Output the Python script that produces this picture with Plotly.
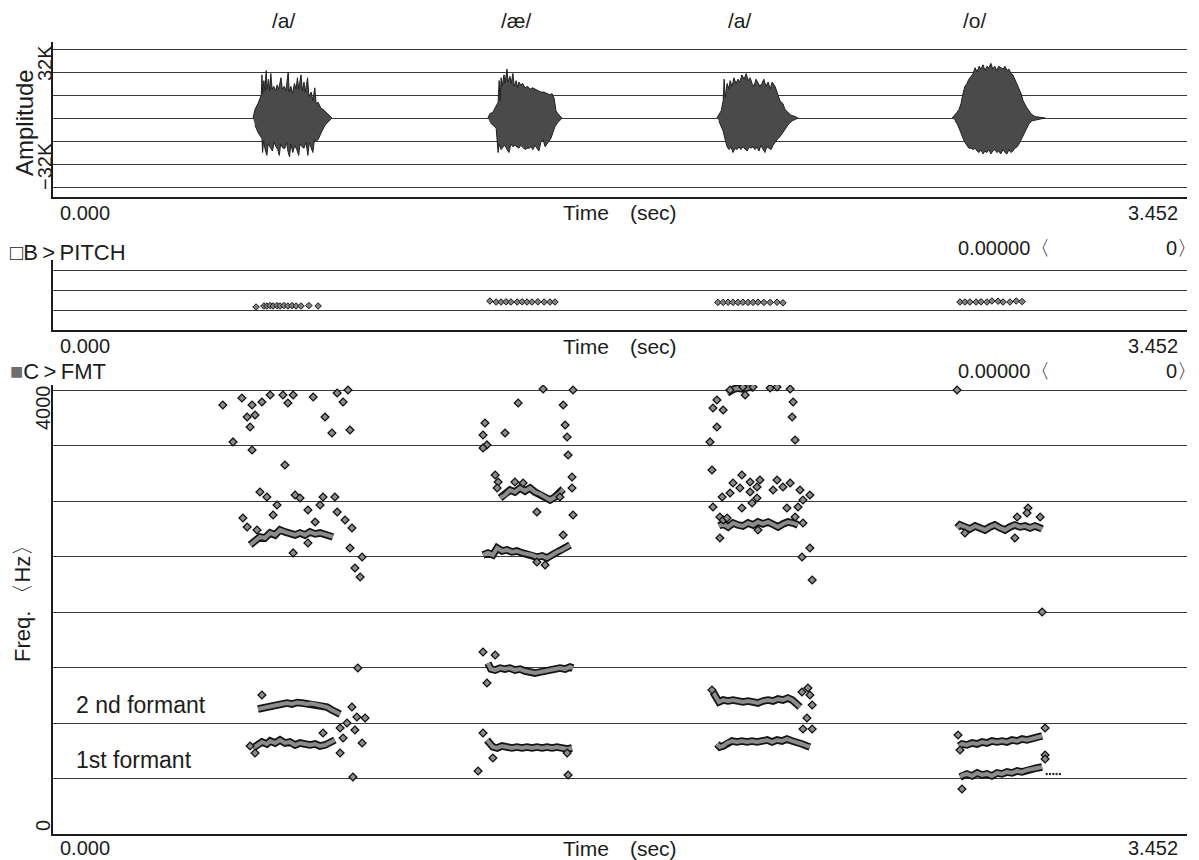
import plotly.graph_objects as go

# ---------------- data (time in s, amplitude in K, frequency in Hz) ----------------
TIME_MAX = 3.452
PHONEMES = ["/a/", "/æ/", "/a/", "/o/"]
PHONEME_T = [0.702, 1.412, 2.091, 2.807]

AMP_GRID = [-48, -32, -16, 0, 16, 32, 48]
PITCH_GRID = [100, 200, 300]
FMT_GRID = [500, 1000, 1500, 2000, 2500, 3000, 3500, 4000]

# waveform envelopes (upper / lower)
WAVE_A1_UP = [(0.609, 0), (0.615, 6), (0.624, 10), (0.630, 14), (0.634, 16), (0.636, 30), (0.638, 17),
              (0.642, 26), (0.645, 19), (0.649, 33), (0.652, 20), (0.656, 27), (0.660, 19), (0.663, 31),
              (0.667, 20), (0.672, 22), (0.678, 19), (0.682, 23), (0.687, 20), (0.694, 28), (0.698, 20),
              (0.704, 22), (0.709, 19), (0.716, 32), (0.719, 18), (0.724, 22), (0.729, 17), (0.735, 24),
              (0.740, 20), (0.744, 28), (0.748, 20), (0.755, 30), (0.759, 19), (0.764, 25), (0.768, 18),
              (0.775, 28), (0.779, 15), (0.786, 18), (0.791, 12), (0.797, 21), (0.801, 10), (0.807, 11),
              (0.815, 7), (0.822, 6), (0.832, 3.5), (0.840, 2), (0.849, 0)]
WAVE_A1_LO = [(0.615, -5), (0.624, -10), (0.632, -13), (0.636, -14), (0.638, -24), (0.641, -16), (0.646, -22),
              (0.651, -26), (0.655, -18), (0.662, -21), (0.668, -23), (0.673, -17), (0.679, -20), (0.684, -22),
              (0.689, -26), (0.693, -18), (0.700, -21), (0.706, -21), (0.711, -17), (0.716, -24), (0.720, -27),
              (0.724, -18), (0.730, -24), (0.736, -19), (0.742, -22), (0.748, -26), (0.752, -18), (0.758, -20),
              (0.764, -21), (0.770, -17), (0.776, -26), (0.780, -17), (0.786, -20), (0.791, -24), (0.796, -15),
              (0.802, -16), (0.807, -15), (0.813, -12), (0.819, -9), (0.828, -5), (0.837, -3)]

WAVE_AE_UP = [(1.324, 0), (1.330, 3), (1.339, 4), (1.349, 8), (1.355, 11), (1.358, 26), (1.361, 12),
              (1.364, 28), (1.367, 22), (1.373, 30), (1.376, 24), (1.382, 34), (1.385, 25), (1.391, 29),
              (1.395, 24), (1.400, 31), (1.404, 22), (1.410, 26), (1.414, 21), (1.418, 25), (1.424, 23),
              (1.430, 24), (1.437, 21), (1.445, 22), (1.452, 20), (1.460, 21), (1.467, 20), (1.476, 19),
              (1.485, 18), (1.495, 18), (1.504, 17), (1.513, 16), (1.519, 17), (1.525, 14), (1.528, 10),
              (1.531, 5), (1.537, 3), (1.546, 1), (1.549, 0)]
WAVE_AE_LO = [(1.330, -3), (1.339, -5), (1.349, -7), (1.352, -14), (1.355, -24), (1.358, -18), (1.364, -22),
              (1.370, -20), (1.376, -19), (1.382, -22), (1.388, -24), (1.394, -18), (1.400, -20), (1.406, -19),
              (1.412, -20), (1.418, -21), (1.424, -19), (1.430, -20), (1.437, -22), (1.443, -21), (1.449, -21),
              (1.455, -20), (1.461, -22), (1.467, -19), (1.473, -21), (1.479, -23), (1.485, -17), (1.492, -15),
              (1.498, -20), (1.504, -18), (1.510, -16), (1.516, -14), (1.522, -10), (1.528, -6), (1.537, -3),
              (1.546, -1)]

WAVE_A2_UP = [(2.021, 0), (2.027, 2), (2.034, 5), (2.040, 12), (2.043, 27), (2.046, 14), (2.052, 24),
              (2.058, 20), (2.061, 26), (2.067, 22), (2.073, 28), (2.079, 24), (2.085, 27), (2.091, 25),
              (2.097, 30), (2.104, 27), (2.110, 31), (2.116, 26), (2.122, 28), (2.128, 24), (2.134, 22),
              (2.140, 27), (2.146, 24), (2.152, 22), (2.158, 24), (2.164, 27), (2.170, 22), (2.177, 25),
              (2.183, 20), (2.189, 25), (2.198, 22), (2.207, 16), (2.213, 12), (2.222, 10), (2.228, 6),
              (2.237, 4), (2.246, 2), (2.259, 1), (2.268, 0)]
WAVE_A2_LO = [(2.027, -2), (2.034, -6), (2.040, -9), (2.046, -15), (2.052, -20), (2.058, -22), (2.064, -20),
              (2.070, -24), (2.076, -21), (2.082, -22), (2.088, -20), (2.094, -22), (2.100, -20), (2.106, -21),
              (2.113, -23), (2.119, -20), (2.125, -21), (2.131, -20), (2.137, -22), (2.143, -20), (2.149, -23),
              (2.155, -19), (2.161, -21), (2.167, -24), (2.173, -20), (2.180, -21), (2.186, -22), (2.192, -19),
              (2.198, -17), (2.204, -15), (2.213, -13), (2.222, -10), (2.231, -7), (2.240, -4), (2.250, -2),
              (2.259, -1)]

WAVE_O_UP = [(2.737, 0), (2.746, 2), (2.752, 4), (2.758, 6), (2.764, 10), (2.770, 17), (2.776, 22),
             (2.782, 24), (2.788, 27), (2.795, 29), (2.801, 31), (2.807, 35), (2.813, 32), (2.819, 36),
             (2.825, 34), (2.831, 37), (2.837, 33), (2.843, 36), (2.849, 35), (2.855, 38), (2.861, 34),
             (2.867, 36), (2.873, 33), (2.879, 36), (2.885, 35), (2.892, 34), (2.898, 36), (2.904, 33),
             (2.910, 34), (2.916, 31), (2.922, 30), (2.928, 27), (2.935, 24), (2.941, 21), (2.947, 17),
             (2.953, 12), (2.959, 9), (2.965, 7), (2.971, 5), (2.977, 3), (2.989, 1), (3.005, 0.5), (3.020, 0)]
WAVE_O_LO = [(2.746, -2), (2.752, -4), (2.758, -7), (2.764, -10), (2.770, -14), (2.776, -17), (2.782, -19),
             (2.788, -21), (2.795, -21), (2.801, -22), (2.807, -21), (2.813, -23), (2.819, -24), (2.825, -22),
             (2.831, -25), (2.837, -23), (2.843, -24), (2.849, -22), (2.855, -25), (2.861, -23), (2.867, -22),
             (2.873, -24), (2.879, -23), (2.885, -25), (2.892, -22), (2.898, -24), (2.904, -25), (2.910, -22),
             (2.916, -24), (2.922, -23), (2.928, -21), (2.935, -20), (2.941, -18), (2.947, -15), (2.953, -13),
             (2.959, -10), (2.965, -7), (2.971, -4), (2.980, -2), (2.995, -1), (3.010, -0.5)]

# pitch points (Hz)
PITCH_A1 = [(0.618, 115), (0.642, 120), (0.651, 120), (0.661, 122), (0.670, 120), (0.682, 122), (0.691, 120),
            (0.703, 122), (0.715, 120), (0.728, 122), (0.740, 120), (0.755, 120), (0.779, 122), (0.807, 120)]
PITCH_AE = [(1.330, 145), (1.349, 140), (1.364, 140), (1.379, 141), (1.394, 140), (1.413, 140), (1.428, 141),
            (1.443, 140), (1.458, 140), (1.476, 141), (1.495, 140), (1.513, 140), (1.528, 140)]
PITCH_A2 = [(2.024, 138), (2.040, 138), (2.055, 139), (2.070, 138), (2.085, 138), (2.100, 139), (2.116, 138),
            (2.131, 138), (2.146, 139), (2.164, 138), (2.183, 138), (2.204, 139), (2.222, 136)]
PITCH_O = [(2.761, 140), (2.776, 140), (2.791, 140), (2.810, 140), (2.825, 141), (2.843, 140), (2.858, 145),
           (2.877, 144), (2.892, 140), (2.913, 140), (2.932, 145), (2.950, 142)]

# formant tracks (Hz)
A1_F1 = [(0.609, 775), (0.624, 802), (0.636, 829), (0.651, 811), (0.661, 838), (0.676, 820), (0.691, 847),
         (0.706, 820), (0.721, 829), (0.737, 802), (0.752, 820), (0.767, 811), (0.782, 802), (0.798, 811),
         (0.813, 793), (0.828, 802), (0.843, 820), (0.858, 847)]
A1_F2 = [(0.624, 1126), (0.636, 1135), (0.651, 1144), (0.667, 1150), (0.682, 1162), (0.697, 1171),
         (0.712, 1180), (0.728, 1171), (0.743, 1185), (0.758, 1180), (0.773, 1171), (0.788, 1176),
         (0.804, 1162), (0.819, 1153), (0.834, 1144), (0.849, 1117), (0.865, 1099), (0.874, 1081)]
A1_F3 = [(0.600, 2604), (0.615, 2640), (0.630, 2676), (0.645, 2667), (0.661, 2712), (0.676, 2694),
         (0.691, 2739), (0.706, 2721), (0.721, 2712), (0.737, 2694), (0.752, 2712), (0.767, 2694),
         (0.782, 2721), (0.798, 2703), (0.813, 2712), (0.828, 2694), (0.843, 2685), (0.852, 2676)]
AE_F1 = [(1.321, 847), (1.330, 811), (1.339, 784), (1.352, 775), (1.367, 793), (1.382, 784), (1.397, 775),
         (1.412, 784), (1.428, 775), (1.443, 784), (1.458, 775), (1.473, 784), (1.489, 775), (1.504, 784),
         (1.519, 775), (1.534, 784), (1.549, 775), (1.565, 766), (1.580, 775)]
AE_F2 = [(1.324, 1540), (1.333, 1486), (1.346, 1477), (1.361, 1495), (1.376, 1486), (1.391, 1495),
         (1.406, 1477), (1.422, 1486), (1.437, 1468), (1.452, 1459), (1.467, 1450), (1.482, 1459),
         (1.498, 1468), (1.513, 1477), (1.528, 1486), (1.543, 1495), (1.559, 1486), (1.574, 1505), (1.583, 1495)]
AE_F3 = [(1.309, 2514), (1.324, 2532), (1.339, 2514), (1.352, 2577), (1.367, 2550), (1.382, 2559),
         (1.397, 2541), (1.412, 2550), (1.428, 2532), (1.443, 2523), (1.458, 2514), (1.473, 2495),
         (1.489, 2505), (1.504, 2486), (1.519, 2514), (1.534, 2541), (1.549, 2559), (1.565, 2586), (1.574, 2604)]
AE_F4 = [(1.361, 3027), (1.376, 3054), (1.391, 3099), (1.406, 3081), (1.422, 3117), (1.437, 3090),
         (1.452, 3117), (1.467, 3081), (1.482, 3063), (1.498, 3036), (1.513, 3009), (1.528, 3036),
         (1.543, 3072), (1.553, 3108)]
A2_F1 = [(2.021, 811), (2.030, 784), (2.040, 793), (2.052, 820), (2.067, 838), (2.082, 829), (2.097, 838),
         (2.113, 829), (2.128, 838), (2.143, 829), (2.158, 838), (2.174, 847), (2.189, 829), (2.204, 847),
         (2.219, 838), (2.234, 856), (2.250, 838), (2.265, 829), (2.280, 811), (2.295, 793), (2.304, 784)]
A2_F2 = [(2.009, 1279), (2.018, 1225), (2.027, 1189), (2.040, 1207), (2.055, 1198), (2.070, 1207),
         (2.085, 1198), (2.100, 1189), (2.116, 1198), (2.131, 1189), (2.146, 1180), (2.161, 1198),
         (2.177, 1207), (2.192, 1198), (2.207, 1216), (2.222, 1207), (2.237, 1225), (2.250, 1207),
         (2.262, 1180), (2.274, 1144)]
A2_F3 = [(2.027, 2775), (2.040, 2793), (2.055, 2766), (2.070, 2802), (2.085, 2784), (2.100, 2775),
         (2.116, 2802), (2.131, 2784), (2.146, 2811), (2.161, 2793), (2.177, 2811), (2.192, 2784),
         (2.207, 2766), (2.222, 2793), (2.237, 2811), (2.253, 2802), (2.268, 2784)]
A2_TOP = [(2.052, 3973), (2.061, 3991), (2.073, 4009), (2.085, 4018), (2.097, 4009), (2.110, 4018),
          (2.122, 4027), (2.134, 4018)]
O_F1 = [(2.761, 514), (2.770, 532), (2.782, 541), (2.798, 523), (2.813, 550), (2.828, 532), (2.843, 541),
        (2.858, 523), (2.874, 550), (2.889, 541), (2.904, 559), (2.919, 550), (2.935, 568), (2.950, 559),
        (2.965, 577), (2.980, 586), (2.995, 595), (3.011, 604)]
O_F2 = [(2.758, 793), (2.767, 811), (2.782, 802), (2.798, 820), (2.813, 811), (2.828, 829), (2.843, 820),
        (2.858, 838), (2.874, 829), (2.889, 838), (2.904, 829), (2.919, 847), (2.935, 838), (2.950, 856),
        (2.965, 847), (2.980, 856), (2.995, 865), (3.011, 883)]
O_F3 = [(2.752, 2757), (2.761, 2784), (2.776, 2766), (2.791, 2748), (2.807, 2775), (2.822, 2757),
        (2.837, 2739), (2.852, 2766), (2.867, 2784), (2.883, 2757), (2.898, 2739), (2.913, 2766),
        (2.928, 2784), (2.944, 2766), (2.959, 2775), (2.974, 2757), (2.989, 2775), (3.005, 2757), (3.011, 2748)]
O_F1_TAIL = [(3.025, 541), (3.035, 541), (3.045, 541), (3.055, 541), (3.065, 541)]

# scattered formant estimates (Hz)
SCAT_A1 = [(0.578, 2847), (0.591, 2766), (0.621, 2739), (0.630, 3081), (0.651, 3036), (0.682, 2964),
           (0.670, 2874), (0.737, 3054), (0.752, 3027), (0.776, 2919), (0.798, 2811), (0.813, 2964),
           (0.822, 3036), (0.858, 3036), (0.865, 2901), (0.889, 2829), (0.910, 2757), (0.776, 2622),
           (0.731, 2532), (0.904, 2577), (0.941, 2495), (0.919, 2396), (0.935, 2315),
           (0.517, 3865), (0.575, 3928), (0.606, 3865), (0.591, 3757), (0.615, 3775), (0.600, 3667),
           (0.636, 3892), (0.661, 3955), (0.700, 3955), (0.715, 3883), (0.731, 3955), (0.792, 3937),
           (0.865, 3973), (0.883, 3892), (0.898, 4000), (0.828, 3757), (0.849, 3613), (0.904, 3640),
           (0.548, 3532), (0.606, 3459), (0.706, 3324),
           (0.910, 1144), (0.925, 1054), (0.950, 1045), (0.874, 955), (0.895, 1000), (0.919, 937),
           (0.883, 865), (0.941, 820), (0.874, 730), (0.822, 910), (0.615, 730), (0.600, 793),
           (0.636, 1252), (0.913, 514), (0.928, 1495)]
SCAT_AE = [(1.492, 4009), (1.583, 4000), (1.416, 3883), (1.553, 3865), (1.315, 3703), (1.309, 3595),
           (1.376, 3613), (1.559, 3685), (1.565, 3577), (1.321, 3505), (1.309, 3478), (1.568, 3414),
           (1.580, 3216), (1.580, 3117), (1.583, 2874),
           (1.346, 3234), (1.355, 3171), (1.352, 3117), (1.406, 3171), (1.431, 3162), (1.473, 2901),
           (1.543, 3036), (1.553, 2694), (1.473, 2450), (1.498, 2423),
           (1.309, 1640), (1.346, 1613), (1.321, 1360),
           (1.309, 910), (1.339, 685), (1.294, 568), (1.568, 532), (1.565, 730)]
SCAT_A2 = [(2.061, 4000), (2.100, 4027), (2.131, 4027), (2.107, 3955), (2.183, 4018), (2.204, 4027),
           (2.244, 4009), (2.021, 3910), (2.009, 3838), (2.040, 3820), (2.021, 3667), (2.253, 3892),
           (2.250, 3757), (2.259, 3550), (2.000, 3532),
           (2.006, 3279), (2.097, 3234), (2.070, 3162), (2.061, 3072), (2.037, 3036), (2.122, 3171),
           (2.152, 3189), (2.143, 3126), (2.091, 3117), (2.122, 3081), (2.143, 3027), (2.204, 3189),
           (2.222, 3126), (2.244, 3162), (2.192, 3099), (2.274, 3099), (2.304, 3054), (2.283, 3009),
           (2.268, 2946), (2.234, 2937), (2.097, 2937), (2.128, 2982), (2.009, 2946),
           (2.030, 2856), (2.040, 2829), (2.052, 2847), (2.259, 2856), (2.283, 2802), (2.030, 2667),
           (2.146, 2739), (2.304, 2577), (2.280, 2495), (2.311, 2288),
           (2.298, 1315), (2.280, 1279), (2.304, 1252), (2.311, 1162), (2.295, 1045), (2.283, 946),
           (2.311, 946), (2.006, 1297)]
SCAT_O = [(2.752, 4000), (2.776, 2712), (2.928, 2667), (2.935, 2856), (2.968, 2937), (2.965, 2892),
          (3.005, 2856), (3.011, 2000), (2.755, 892), (2.761, 757), (3.020, 955), (3.020, 712),
          (3.020, 676), (2.767, 405)]

# ---------------- figure ----------------
# the page body adds an 8px offset; the figure is sized so that the
# plotted page reproduces the 1199x860 reference layout.
OFF = 8
PAGE_W, PAGE_H = 1199, 860
W, H = PAGE_W - OFF, PAGE_H - OFF
PLOT_L, PLOT_R = 53, 1187          # page pixels of the plot area
ML = PLOT_L - OFF
MR = W - (PLOT_R - OFF)
INK = "#1c1c1c"
GRID = "#3a3a3a"
WORD = "Liberation Sans, Arial, sans-serif"
NUM = "Liberation Sans, Arial, sans-serif"

fig = go.Figure()


def xs(pts):
    return [p[0] for p in pts]


def ys(pts):
    return [p[1] for p in pts]


for up, lo in [(WAVE_A1_UP, WAVE_A1_LO), (WAVE_AE_UP, WAVE_AE_LO),
               (WAVE_A2_UP, WAVE_A2_LO), (WAVE_O_UP, WAVE_O_LO)]:
    poly = up + lo[::-1]
    fig.add_trace(go.Scatter(x=xs(poly), y=ys(poly), mode="lines", fill="toself",
                             fillcolor="#4a4a4a", line=dict(color="#202020", width=1),
                             xaxis="x", yaxis="y", hoverinfo="skip", showlegend=False))

for pts in [PITCH_A1, PITCH_AE, PITCH_A2, PITCH_O]:
    fig.add_trace(go.Scatter(x=xs(pts), y=ys(pts), mode="markers",
                             marker=dict(symbol="diamond", size=5, color="#808080",
                                         line=dict(color="#151515", width=1)),
                             xaxis="x2", yaxis="y2", hoverinfo="skip", showlegend=False))

TRACKS = [A1_F1, A1_F2, A1_F3, AE_F1, AE_F2, AE_F3, AE_F4, A2_F1, A2_F2, A2_F3, A2_TOP, O_F1, O_F2, O_F3]
for pts in TRACKS:
    fig.add_trace(go.Scatter(x=xs(pts), y=ys(pts), mode="lines",
                             line=dict(color="#151515", width=7.5),
                             xaxis="x3", yaxis="y3", hoverinfo="skip", showlegend=False))
for pts in TRACKS:
    fig.add_trace(go.Scatter(x=xs(pts), y=ys(pts), mode="lines",
                             line=dict(color="#8c8c8c", width=4),
                             xaxis="x3", yaxis="y3", hoverinfo="skip", showlegend=False))
for pts in [SCAT_A1, SCAT_AE, SCAT_A2, SCAT_O]:
    fig.add_trace(go.Scatter(x=xs(pts), y=ys(pts), mode="markers",
                             marker=dict(symbol="diamond", size=6, color="#8c8c8c",
                                         line=dict(color="#111111", width=1.3)),
                             xaxis="x3", yaxis="y3", hoverinfo="skip", showlegend=False))
fig.add_trace(go.Scatter(x=xs(O_F1_TAIL), y=ys(O_F1_TAIL), mode="markers",
                         marker=dict(symbol="circle", size=2.5, color="#333333"),
                         xaxis="x3", yaxis="y3", hoverinfo="skip", showlegend=False))


def py(p):
    """page pixel row -> paper fraction"""
    return 1 - (p - OFF) / H


def px(p):
    """page pixel column -> paper fraction"""
    return (p - OFF - ML) / (W - ML - MR)


def xaxis_cfg(anchor):
    return dict(domain=[0, 1], range=[0, TIME_MAX], anchor=anchor, showline=True,
                linecolor=INK, linewidth=1.5, showgrid=False, zeroline=False,
                showticklabels=False, ticks="", fixedrange=True)


def yaxis_cfg(dom, rng, grid, anchor):
    return dict(domain=dom, range=rng, anchor=anchor, tickvals=grid, showticklabels=False,
                ticks="", showgrid=True, gridcolor=GRID, gridwidth=1.3, zeroline=False,
                showline=True, linecolor=INK, linewidth=1.5, fixedrange=True)


fig.update_layout(
    width=W, height=H,
    margin=dict(l=ML, r=MR, t=0, b=0, pad=0),
    plot_bgcolor="white", paper_bgcolor="white",
    showlegend=False,
    xaxis=xaxis_cfg("y"),
    yaxis=yaxis_cfg([py(197), py(42)], [-54.96, 52.87], AMP_GRID, "x"),
    xaxis2=xaxis_cfg("y2"),
    yaxis2=yaxis_cfg([py(330), py(260)], [0, 350], PITCH_GRID, "x2"),
    xaxis3=xaxis_cfg("y3"),
    yaxis3=yaxis_cfg([py(834), py(385)], [0, 4045], FMT_GRID, "x3"),
)

ann = []


def text(s, x, y, font, size, xref="paper", xanchor="center", angle=0, color=INK, yanchor="middle"):
    ann.append(dict(text=s, x=x, y=y, xref=xref, yref="paper", xanchor=xanchor,
                    yanchor=yanchor, textangle=angle, showarrow=False, borderpad=0,
                    font=dict(family=font, size=size, color=color)))


for lab, t in zip(PHONEMES, PHONEME_T):
    text(lab, t, py(OFF), WORD, 21, xref="x", yanchor="top")

text("Amplitude", px(24), py(123), WORD, 24, angle=-90)
text("32K", px(45), py(63), NUM, 20, angle=-90)
text("\u221232K", px(45), py(166), NUM, 20, angle=-90)

for ypix in [213, 346, 848]:
    text("0.000", px(59), py(ypix), NUM, 20, xanchor="left")
    text("3.452", px(1179), py(ypix), NUM, 20, xanchor="right")
    text("Time\u2003(sec)", TIME_MAX / 2, py(ypix), WORD, 21, xref="x")

text("\u25a1B\u2009>\u2009PITCH", px(9), py(252), WORD, 22, xanchor="left")
text("<span style='color:#6e6e6e'>\u25a0</span>C\u2009>\u2009FMT", px(9), py(371), WORD, 22, xanchor="left")
for ypix in [248, 371]:
    text("0.00000\u3008", px(957), py(ypix), NUM, 20, xanchor="left")
    text("0\u3009", px(1198), py(ypix), NUM, 20, xanchor="right")

text("4000", px(43), py(408), NUM, 20, angle=-90)
text("0", px(43), py(826), NUM, 20, angle=-90)
text("Freq. \u3008Hz\u3009", px(22), py(598), WORD, 22, angle=-90)
text("2 nd formant", px(75), py(705), WORD, 23, xanchor="left")
text("1st formant", px(75), py(760), WORD, 23, xanchor="left")

fig.update_layout(annotations=ann)
fig.write_html("out.html")
